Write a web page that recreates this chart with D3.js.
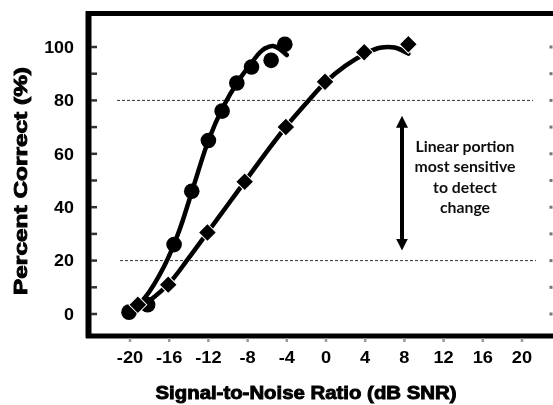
<!DOCTYPE html>
<html><head><meta charset="utf-8">
<script src="https://cdn.jsdelivr.net/npm/d3@7"></script>
<style>body{margin:0;background:#fff}svg{display:block}</style>
</head><body>
<script>
// ---- data ----
const xTicks = [-20, -16, -12, -8, -4, 0, 4, 8, 12, 16, 20];
const yTicks = [0, 20, 40, 60, 80, 100];
const yMinorTicks = [-10, 0, 10, 20, 30, 40, 50, 60, 70, 80, 90, 100, 110];
const circleX = [-20.1, -18.2, -15.5, -13.7, -12, -10.6, -9.1, -7.6, -5.6, -4.2];
const circleY = [0.7, 3.5, 26, 46, 65, 76, 86.5, 92.5, 95, 101];
const diamondX = [-19.2, -16.1, -12.1, -8.3, -4.1, -0.1, 3.9, 8.4];
const diamondY = [3.5, 11, 30.5, 49.5, 70, 87, 98, 101];
const fit1X = [-20.3, -18.5, -16.5, -15, -13.5, -12, -10.5, -9, -7.8, -6.5, -5.4, -4];
const fit1Y = [-0.5, 6, 18, 31, 48, 65, 77.5, 87, 93, 98.8, 100.4, 97];
const fit2X = [-20.3, -18, -16, -14, -12, -10, -8, -6, -4, -2, 0, 2, 4, 5.5, 7, 8.4];
const fit2Y = [-0.5, 5, 11.5, 21, 31, 41, 51, 61, 70.5, 79, 87, 93, 97.5, 99.7, 99.8, 97.5];
const refLines = [80, 20];
const noteLines = ["Linear portion", "most sensitive", "to detect", "change"];
const xTitle = "Signal-to-Noise Ratio (dB SNR)";
const yTitle = "Percent Correct (%)";

const W = 553, H = 405;
const svg = d3.select("body").append("svg").attr("width", W).attr("height", H);
const defs = svg.append("defs");
defs.append("filter").attr("id", "soft").append("feGaussianBlur").attr("stdDeviation", 0.5);

const x = d3.scaleLinear().domain([-20, 20]).range([130, 522]);
const y = d3.scaleLinear().domain([0, 100]).range([314, 47]);

const g = svg.append("g").attr("filter", "url(#soft)");

// frame
g.append("line").attr("x1", 86).attr("x2", W).attr("y1", 13.5).attr("y2", 13.5)
  .attr("stroke", "#000").attr("stroke-width", 5);
g.append("line").attr("x1", 88.5).attr("x2", 88.5).attr("y1", 11).attr("y2", 338)
  .attr("stroke", "#000").attr("stroke-width", 6);
g.append("line").attr("x1", 86).attr("x2", W).attr("y1", 336).attr("y2", 336)
  .attr("stroke", "#000").attr("stroke-width", 5);

// left minor ticks (inward)
g.selectAll(".ytk").data(yMinorTicks.filter(v => v >= -5 && v <= 105)).enter().append("line")
  .attr("x1", 91).attr("x2", 97).attr("y1", d => y(d)).attr("y2", d => y(d))
  .attr("stroke", "#333").attr("stroke-width", 2.5);
// right edge tick dots
g.selectAll(".rtk").data(yMinorTicks.filter(v => v >= -5 && v <= 105)).enter().append("rect")
  .attr("x", 549.5).attr("y", d => y(d) - 1.5).attr("width", 3).attr("height", 3)
  .attr("fill", "#777");
// bottom ticks (outward, faint)
g.selectAll(".xtk").data(xTicks).enter().append("line")
  .attr("x1", d => x(d)).attr("x2", d => x(d)).attr("y1", 338).attr("y2", 342)
  .attr("stroke", "#999").attr("stroke-width", 2.5);

// y tick labels
g.selectAll(".ylab").data(yTicks).enter().append("text")
  .attr("x", 74).attr("y", d => y(d)).attr("dy", "0.36em")
  .attr("text-anchor", "end")
  .attr("font-family", "Liberation Sans, Arial, sans-serif").attr("font-weight", "bold")
  .attr("font-size", 16).attr("transform-origin", d => `74px ${y(d)}px`)
  .style("transform", "scaleX(1.12)")
  .text(d => d);

// x tick labels
g.selectAll(".xlab").data(xTicks).enter().append("text")
  .attr("x", d => x(d)).attr("y", 363)
  .attr("text-anchor", "middle")
  .attr("font-family", "Liberation Sans, Arial, sans-serif").attr("font-weight", "bold")
  .attr("font-size", 16).attr("transform-origin", d => `${x(d)}px 363px`)
  .style("transform", "scaleX(1.14)")
  .text(d => d);

// axis titles
g.append("text").attr("x", 306).attr("y", 399).attr("text-anchor", "middle")
  .attr("font-family", "Liberation Sans, Arial, sans-serif").attr("font-weight", "900")
  .attr("font-size", 18).attr("textLength", 301).attr("lengthAdjust", "spacingAndGlyphs")
  .attr("stroke", "#000").attr("stroke-width", 0.9)
  .text(xTitle);
g.append("text").attr("transform", "translate(27,181) rotate(-90)").attr("text-anchor", "middle")
  .attr("font-family", "Liberation Sans, Arial, sans-serif").attr("font-weight", "900")
  .attr("font-size", 18).attr("textLength", 228).attr("lengthAdjust", "spacingAndGlyphs")
  .attr("stroke", "#000").attr("stroke-width", 0.9)
  .text(yTitle);

// dashed reference lines
g.selectAll(".ref").data(refLines).enter().append("line")
  .attr("x1", d => d === 80 ? 117 : 120).attr("x2", d => d === 80 ? 533 : 536)
  .attr("y1", d => y(d)).attr("y2", d => y(d))
  .attr("stroke", "#333").attr("stroke-width", 1).attr("stroke-dasharray", "3,2");

// double arrow
defs.append("marker").attr("id", "ah").attr("viewBox", "0 0 10 10").attr("refX", 5).attr("refY", 5)
  .attr("markerWidth", 3).attr("markerHeight", 3).attr("orient", "auto-start-reverse")
  .attr("markerUnits", "strokeWidth")
  .append("path").attr("d", "M0,0 L10,5 L0,10 Z").attr("fill", "#000");
g.append("line").attr("x1", 402).attr("x2", 402).attr("y1", y(72)).attr("y2", y(26))
  .attr("stroke", "#000").attr("stroke-width", 4)
  .attr("marker-start", "url(#ah)").attr("marker-end", "url(#ah)");

// annotation text
g.selectAll(".note").data(noteLines).enter().append("text")
  .attr("x", 465).attr("y", (d, i) => 152 + i * 20.4).attr("text-anchor", "middle")
  .attr("font-family", "Lato, Open Sans, sans-serif").attr("font-weight", "bold")
  .attr("font-size", 15.8).attr("fill", "#111")
  .text(d => d);

// fitted curves
const line = d3.line().x(d => x(d[0])).y(d => y(d[1])).curve(d3.curveCatmullRom.alpha(0.5));
g.append("path").datum(d3.zip(fit1X, fit1Y)).attr("d", line)
  .attr("fill", "none").attr("stroke", "#000").attr("stroke-width", 4.5).attr("stroke-linecap", "round");
g.append("path").datum(d3.zip(fit2X, fit2Y)).attr("d", line)
  .attr("fill", "none").attr("stroke", "#000").attr("stroke-width", 4.5).attr("stroke-linecap", "round");

// circles
g.selectAll(".c").data(d3.zip(circleX, circleY)).enter().append("circle")
  .attr("cx", d => x(d[0])).attr("cy", d => y(d[1])).attr("r", 7.8).attr("fill", "#000");

// diamonds
const dsym = d3.symbol().type(d3.symbolSquare).size(160);
g.selectAll(".d").data(d3.zip(diamondX, diamondY)).enter().append("path")
  .attr("d", dsym)
  .attr("transform", d => `translate(${x(d[0])},${y(d[1])}) rotate(45)`)
  .attr("fill", "#000").attr("stroke", "#fff").attr("stroke-width", 1);
</script>
</body></html>
